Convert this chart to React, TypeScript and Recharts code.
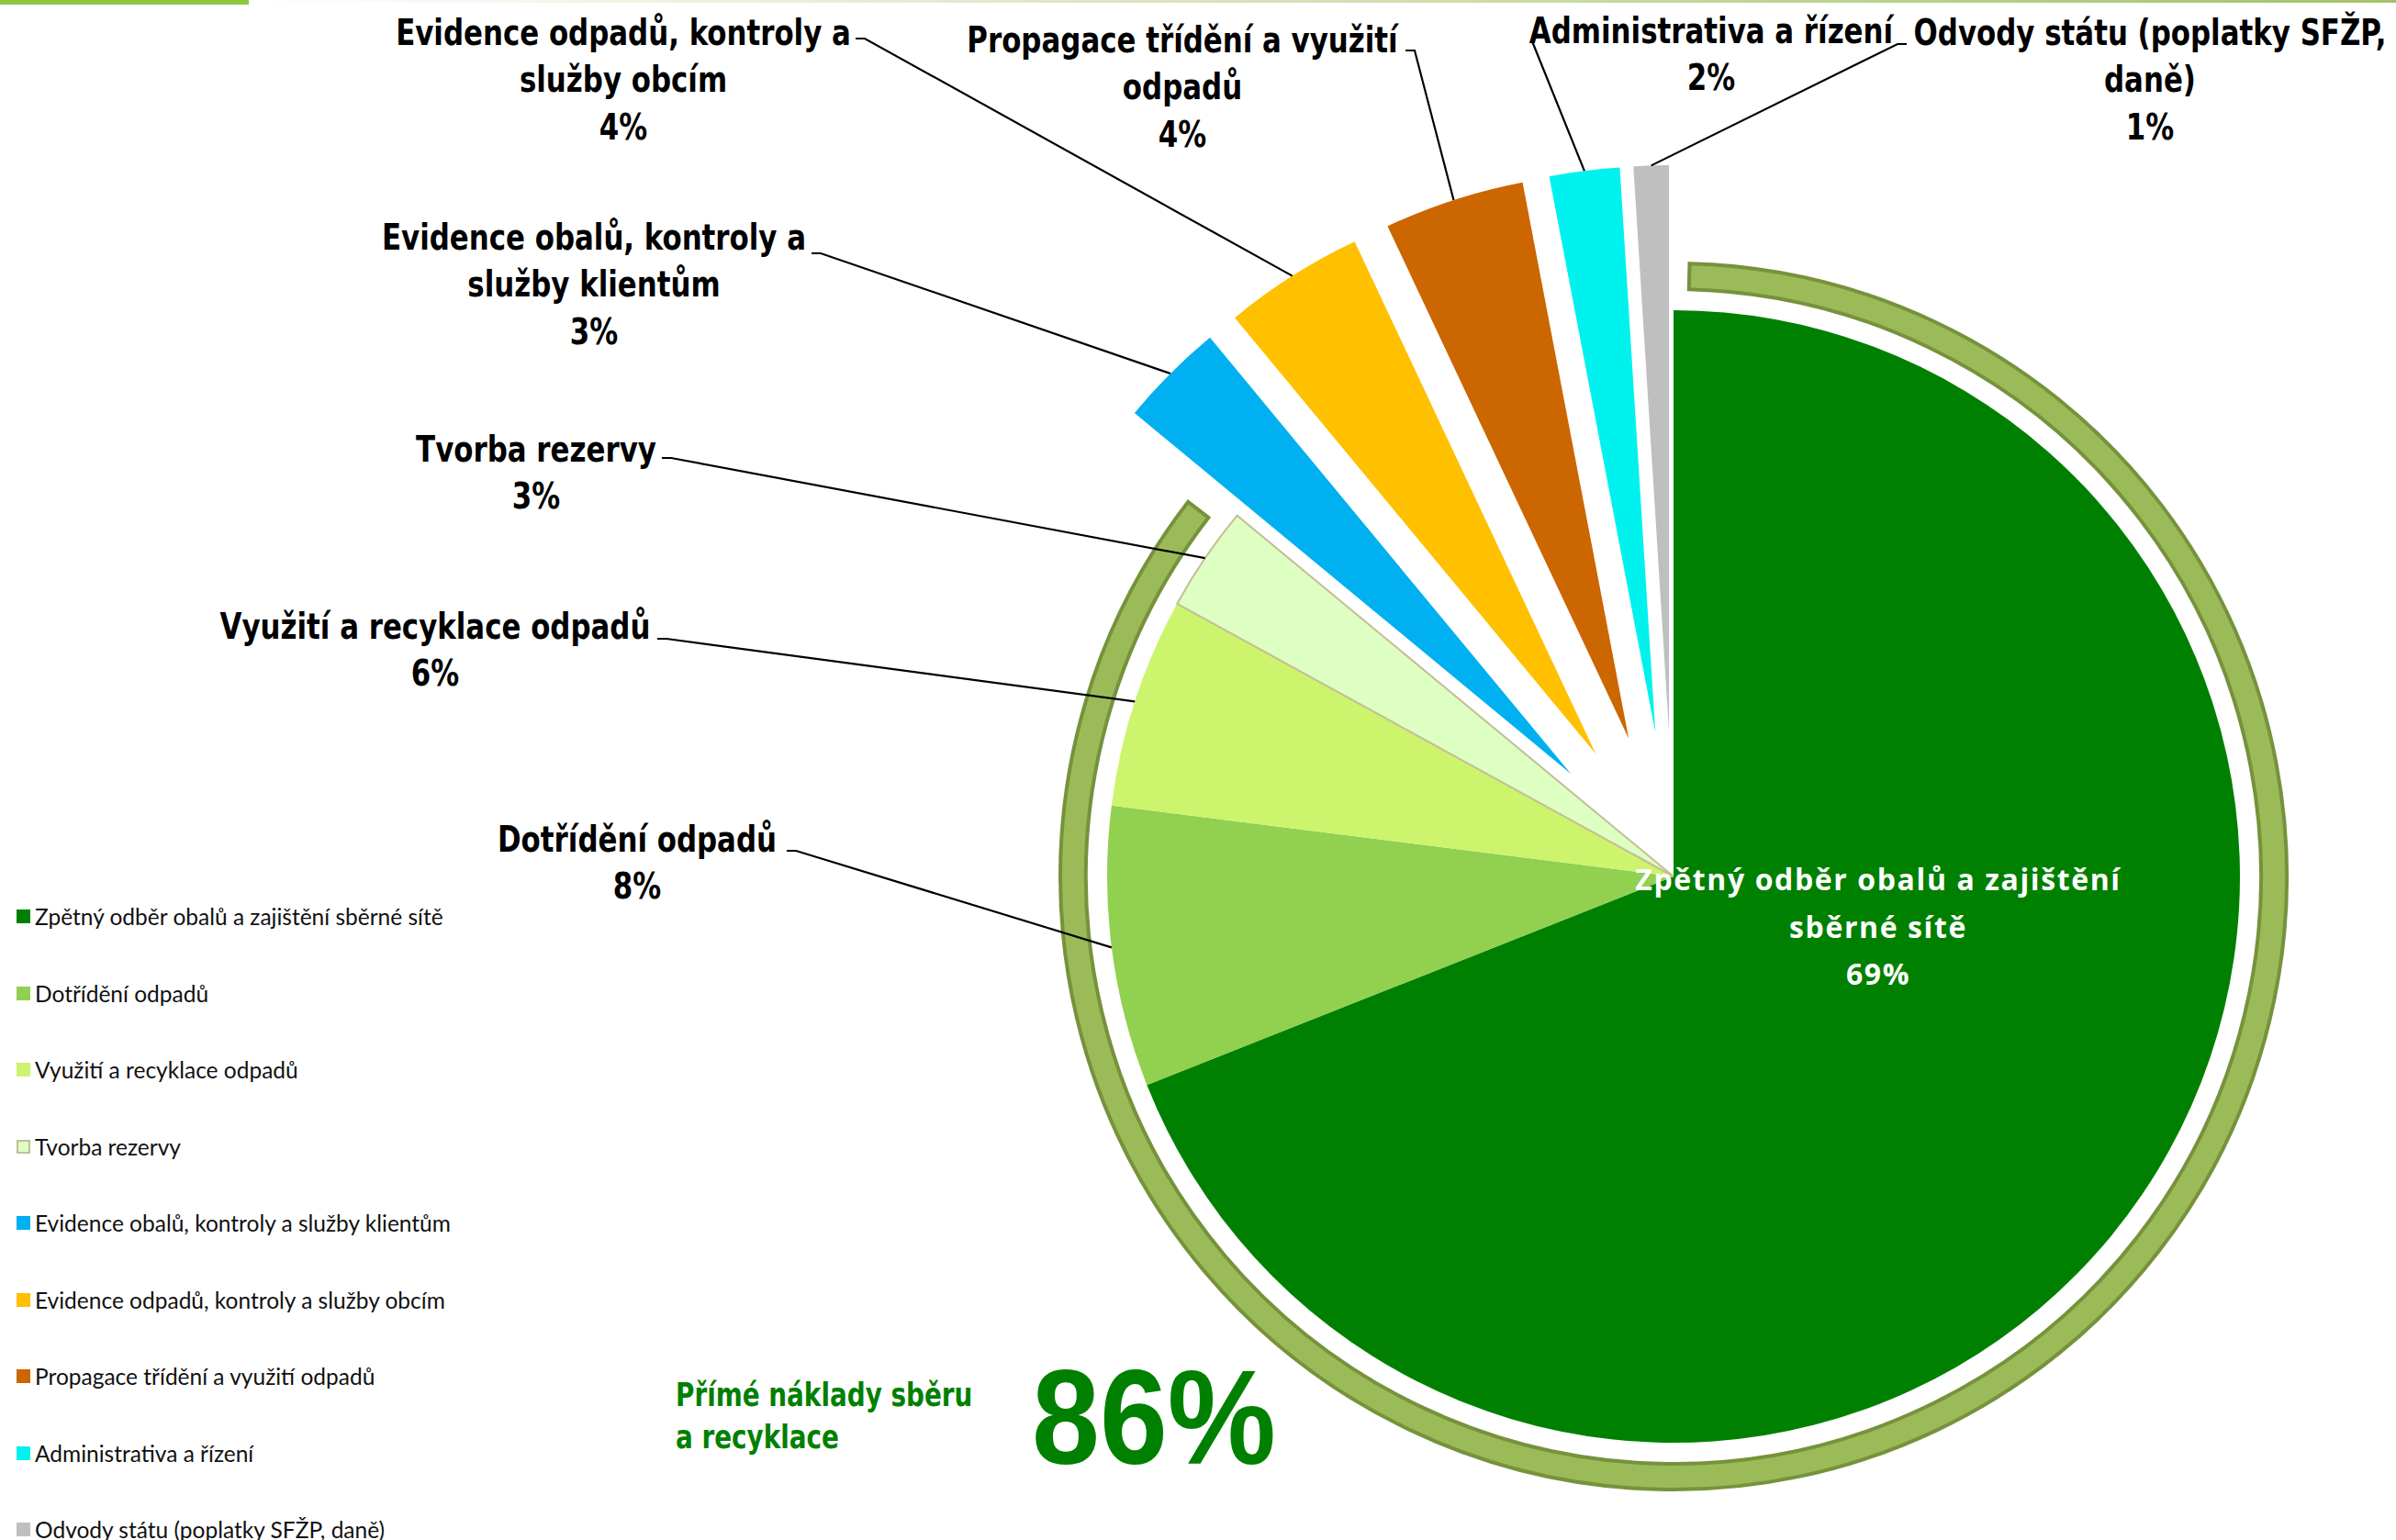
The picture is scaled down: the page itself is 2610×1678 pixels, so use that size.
import React from "react";
import { PieChart, Pie, Cell, Sector, Legend } from "recharts";

const CATEGORIES = [
  "Zpětný odběr obalů a zajištění sběrné sítě",
  "Dotřídění odpadů",
  "Využití a recyklace odpadů",
  "Tvorba rezervy",
  "Evidence obalů, kontroly a služby klientům",
  "Evidence odpadů, kontroly a služby obcím",
  "Propagace třídění a využití odpadů",
  "Administrativa a řízení",
  "Odvody státu (poplatky SFŽP, daně)",
];
const VALUES = [69, 8, 6, 3, 3, 4, 4, 2, 1];
// slices pulled out of the pie
const EXPLODED = [false, false, false, false, true, true, true, true, true];
// how many leading slices count as direct collection/recycling costs
const DIRECT_COUNT = 4;
const DIRECT_LABEL = ["Přímé náklady sběru", "a recyklace"];

const LABEL_LINES = [
  ["Zpětný odběr obalů a zajištění", "sběrné sítě"],
  ["Dotřídění odpadů"],
  ["Využití a recyklace odpadů"],
  ["Tvorba rezervy"],
  ["Evidence obalů, kontroly a", "služby klientům"],
  ["Evidence odpadů, kontroly a", "služby obcím"],
  ["Propagace třídění a využití", "odpadů"],
  ["Administrativa a řízení"],
  ["Odvody státu (poplatky SFŽP,", "daně)"],
];

const COLORS = [
  "#008000",
  "#92D050",
  "#CCF46C",
  "#DDFFC2",
  "#00B0F0",
  "#FFC000",
  "#CC6600",
  "#00F2EE",
  "#BFBFBF",
];

// layout
const W = 2610;
const H = 1678;
const CX = 1823;
const CY = 955;
const R = 617;
const EXPLODE = 158;
const LINE_H = 51.5;
const LABEL_FONT = "'Liberation Sans Narrow', 'Arial Narrow', 'DejaVu Sans Condensed', sans-serif";
const NARROW = 0.88; // horizontal squeeze of the outside labels

// text centre x, first line centre y, leader start (ax, ay), tick direction
const LABEL_POS = [
  { x: 2046, y: 957 },
  { x: 694, y: 914, ax: 857, ay: 927, tick: 1 },
  { x: 474, y: 682, ax: 716, ay: 696, tick: 1 },
  { x: 584, y: 489, ax: 721, ay: 499, tick: 1 },
  { x: 647, y: 258, ax: 884, ay: 276, tick: 1 },
  { x: 679, y: 35, ax: 932, ay: 42, tick: 1 },
  { x: 1288, y: 43, ax: 1531, ay: 55, tick: 1 },
  { x: 1864, y: 33, ax: 1669, ay: 45, tick: 0 },
  { x: 2342, y: 35, ax: 2077, ay: 48, tick: -1 },
];

const pieData = CATEGORIES.map((name, i) => ({ name, value: VALUES[i] }));
const directSum = VALUES.slice(0, DIRECT_COUNT).reduce((a, b) => a + b, 0);
const total = VALUES.reduce((a, b) => a + b, 0);
const ringData = [
  { name: "direct", value: directSum },
  { name: "other", value: total - directSum },
];

const RAD = Math.PI / 180;

const squeeze = (x: number, k: number) => `translate(${x},0) scale(${k},1) translate(${-x},0)`;

const renderSlice = (p: any) => {
  const { index, midAngle, cx, cy, outerRadius, startAngle, endAngle, percent } = p;
  const a = -midAngle * RAD;
  const off = EXPLODED[index] ? EXPLODE : 0;
  const sx = cx + off * Math.cos(a);
  const sy = cy + off * Math.sin(a);
  const tx = sx + outerRadius * Math.cos(a);
  const ty = sy + outerRadius * Math.sin(a);
  const pos = LABEL_POS[index];
  const lines = [...LABEL_LINES[index], `${Math.round(percent * 100)}%`];
  const inside = index === 0;
  return (
    <g>
      {off > 0 && (
        <Sector
          cx={sx}
          cy={sy}
          innerRadius={0}
          outerRadius={outerRadius}
          startAngle={startAngle}
          endAngle={endAngle}
          fill={COLORS[index]}
          stroke="none"
        />
      )}
      {!inside && (
        <polyline
          points={`${pos.ax},${pos.ay} ${pos.ax + (pos.tick ?? 0) * 10},${pos.ay} ${tx},${ty}`}
          fill="none"
          stroke="#000"
          strokeWidth={2.2}
        />
      )}
      <g transform={inside ? undefined : squeeze(pos.x, NARROW)}>
        <text
          x={pos.x}
          y={pos.y}
          textAnchor="middle"
          dominantBaseline="central"
          fontFamily={inside ? "'Open Sans', sans-serif" : LABEL_FONT}
          fontWeight="bold"
          fontSize={inside ? 32 : 39}
          fill={inside ? "#ffffff" : "#000000"}
          letterSpacing={inside ? 1.6 : 0}
        >
          {lines.map((l, k) => (
            <tspan key={k} x={pos.x} y={pos.y + k * LINE_H}>
              {l}
            </tspan>
          ))}
        </text>
      </g>
    </g>
  );
};

const renderLegend = (props: any) => {
  const names: string[] =
    props.payload && props.payload.length ? props.payload.map((e: any) => e.value) : CATEGORIES;
  const order = names
    .map((n) => CATEGORIES.indexOf(n))
    .filter((i) => i >= 0)
    .sort((a, b) => a - b);
  return (
    <div style={{ fontFamily: "Lato, sans-serif", fontSize: 24.5, color: "#111" }}>
      {order.map((idx) => (
        <div key={idx} style={{ height: 83.5, display: "flex", alignItems: "center" }}>
          <span
            style={{
              display: "inline-block",
              width: idx === 3 ? 11 : 15,
              height: idx === 3 ? 11 : 15,
              background: COLORS[idx],
              border: idx === 3 ? "2px solid #C4BD97" : "none",
              marginLeft: 18,
              marginRight: 5,
            }}
          />
          <span style={{ whiteSpace: "nowrap" }}>{CATEGORIES[idx]}</span>
        </div>
      ))}
    </div>
  );
};

export default function App() {
  return (
    <div style={{ position: "absolute", left: 0, top: 0, width: W, height: H, background: "#fff", overflow: "hidden" }}>
      <PieChart width={W} height={H} margin={{ top: 0, right: 0, bottom: 0, left: 0 }}>
        <defs>
          <linearGradient id="topline" x1="0" y1="0" x2="1" y2="0">
            <stop offset="0" stopColor="#9BBB59" stopOpacity={0} />
            <stop offset="1" stopColor="#9BBB59" stopOpacity={0.9} />
          </linearGradient>
        </defs>
        <rect x={0} y={0} width={271} height={5} fill="#8DC63F" />
        <rect x={271} y={0} width={W - 271} height={3} fill="url(#topline)" />
        <Pie
          data={ringData}
          dataKey="value"
          nameKey="name"
          cx={CX}
          cy={CY}
          innerRadius={640}
          outerRadius={668}
          startAngle={88.5}
          endAngle={-271.5}
          paddingAngle={2}
          legendType="none"
          isAnimationActive={false}
          label={false}
          labelLine={false}
        >
          <Cell fill="#9BBB59" stroke="#76923C" strokeWidth={4} />
          <Cell fill="none" stroke="none" />
        </Pie>
        <Pie
          data={pieData}
          dataKey="value"
          nameKey="name"
          cx={CX}
          cy={CY}
          outerRadius={R}
          startAngle={90}
          endAngle={-270}
          isAnimationActive={false}
          label={renderSlice}
          labelLine={false}
        >
          {pieData.map((d, i) => (
            <Cell
              key={d.name}
              fill={EXPLODED[i] ? "transparent" : COLORS[i]}
              stroke={i === 3 ? "#C4BD97" : "none"}
              strokeWidth={i === 3 ? 2 : 0}
            />
          ))}
        </Pie>
        <g transform={squeeze(736, 0.86)}>
          <text fontFamily={LABEL_FONT} fontWeight="bold" fontSize={36} fill="#008000">
            {DIRECT_LABEL.map((l, k) => (
              <tspan key={k} x={736} y={1520 + k * 46} dominantBaseline="central">
                {l}
              </tspan>
            ))}
          </text>
        </g>
        <text
          x={1124}
          y={1595}
          fontFamily="'Liberation Sans', Arial, sans-serif"
          fontWeight="bold"
          fontSize={146}
          fill="#008000"
          textLength={266}
          lengthAdjust="spacingAndGlyphs"
        >
          {`${Math.round((directSum / total) * 100)}%`}
        </text>
        <Legend
          layout="horizontal"
          verticalAlign="bottom"
          align="left"
          content={renderLegend}
          wrapperStyle={{ left: 0, top: 957, width: 700 }}
        />
      </PieChart>
    </div>
  );
}
